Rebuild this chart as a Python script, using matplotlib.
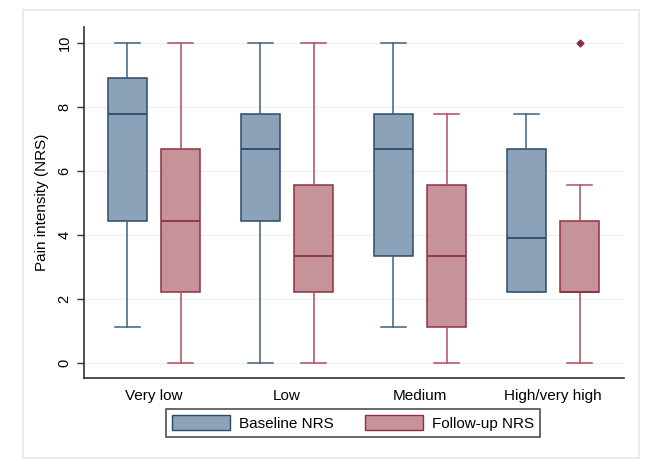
import matplotlib
matplotlib.use("Agg")
import matplotlib.pyplot as plt
from matplotlib.patches import Patch, Rectangle
import numpy as np

plt.rcParams['font.family'] = ['Liberation Sans', 'DejaVu Sans']

categories = ["Very low", "Low", "Medium", "High/very high"]
series = ["Baseline NRS", "Follow-up NRS"]

# stats per series: whislo, q1, med, q3, whishi
base_whislo = [1.11, 0.0, 1.11, 2.22]
base_q1     = [4.44, 4.44, 3.33, 2.22]
base_med    = [7.78, 6.67, 6.67, 3.89]
base_q3     = [8.89, 7.78, 7.78, 6.67]
base_whishi = [10.0, 10.0, 10.0, 7.78]
base_fliers = [[], [], [], []]

fu_whislo = [0.0, 0.0, 0.0, 0.0]
fu_q1     = [2.22, 2.22, 1.11, 2.22]
fu_med    = [4.44, 3.33, 3.33, 2.22]
fu_q3     = [6.67, 5.56, 5.56, 4.44]
fu_whishi = [10.0, 10.0, 7.78, 5.56]
fu_fliers = [[], [], [], [10.0]]

colors = {
    "Baseline NRS": dict(fill="#8ca2b8", edge="#2b4a68", whisk="#3d6283"),
    "Follow-up NRS": dict(fill="#c7939a", edge="#8f3040", whisk="#b04c5c"),
}

fig = plt.figure(figsize=(6.72, 4.69), dpi=100)
# outer frame
fig.patches.append(Rectangle((23/672, 1-458/469), (639-23)/672, (458-10)/469,
                             transform=fig.transFigure, fill=False,
                             edgecolor="#e4e8e8", linewidth=1.2))
ax = fig.add_axes([84/672, 1-378/469, (624-84)/672, (378-27)/469])

def make_stats(wl, q1, med, q3, wh, fl):
    return [dict(whislo=a, q1=b, med=c, q3=d, whishi=e, fliers=f)
            for a, b, c, d, e, f in zip(wl, q1, med, q3, wh, fl)]

x = np.arange(1, len(categories) + 1)
off = 0.2
width = 0.295
sets = [
    ("Baseline NRS", make_stats(base_whislo, base_q1, base_med, base_q3, base_whishi, base_fliers), x - off),
    ("Follow-up NRS", make_stats(fu_whislo, fu_q1, fu_med, fu_q3, fu_whishi, fu_fliers), x + off),
]
for name, stats, pos in sets:
    c = colors[name]
    ax.bxp(stats, positions=pos, widths=width, patch_artist=True,
           showfliers=True, showcaps=True,
           boxprops=dict(facecolor=c["fill"], edgecolor=c["edge"], linewidth=1.1),
           medianprops=dict(color=c["edge"], linewidth=1.3),
           whiskerprops=dict(color=c["whisk"], linewidth=1.1),
           capprops=dict(color=c["whisk"], linewidth=1.1),
           capwidths=width * 0.62,
           flierprops=dict(marker="D", markersize=3.5, markerfacecolor=c["edge"],
                           markeredgecolor=c["edge"]),
           manage_ticks=False, zorder=3)

ax.set_xlim(0.474, 4.534)
ax.set_ylim(-0.47, 10.49)
ax.set_xticks(x)
ax.set_xticklabels(categories, fontsize=11)
ax.tick_params(axis='x', length=0, pad=8)
ax.set_yticks([0, 2, 4, 6, 8, 10])
ax.set_yticklabels(["0", "2", "4", "6", "8", "10"], rotation=90, va="center", fontsize=10.5)
ax.tick_params(axis='y', length=5, width=1, color="#333333", pad=4)
ax.set_ylabel("Pain intensity (NRS)", fontsize=11, labelpad=6)
ax.grid(axis='y', color="#eef0f0", linewidth=1.0, zorder=0)
ax.set_axisbelow(True)
for s in ["top", "right"]:
    ax.spines[s].set_visible(False)
for s in ["left", "bottom"]:
    ax.spines[s].set_color("#333333")
    ax.spines[s].set_linewidth(1.2)

handles = [Patch(facecolor=colors[n]["fill"], edgecolor=colors[n]["edge"], label=n) for n in series]
leg = fig.legend(handles=handles, loc="center", bbox_to_anchor=(353/672, 1-423/469),
                 ncol=2, fontsize=11, frameon=True, fancybox=False,
                 handlelength=3.8, handleheight=1.05, columnspacing=2.0,
                 handletextpad=0.6, borderpad=0.4, borderaxespad=0)
leg.get_frame().set_edgecolor("#222222")
leg.get_frame().set_linewidth(1.2)

fig.savefig("out.png", dpi=100)
